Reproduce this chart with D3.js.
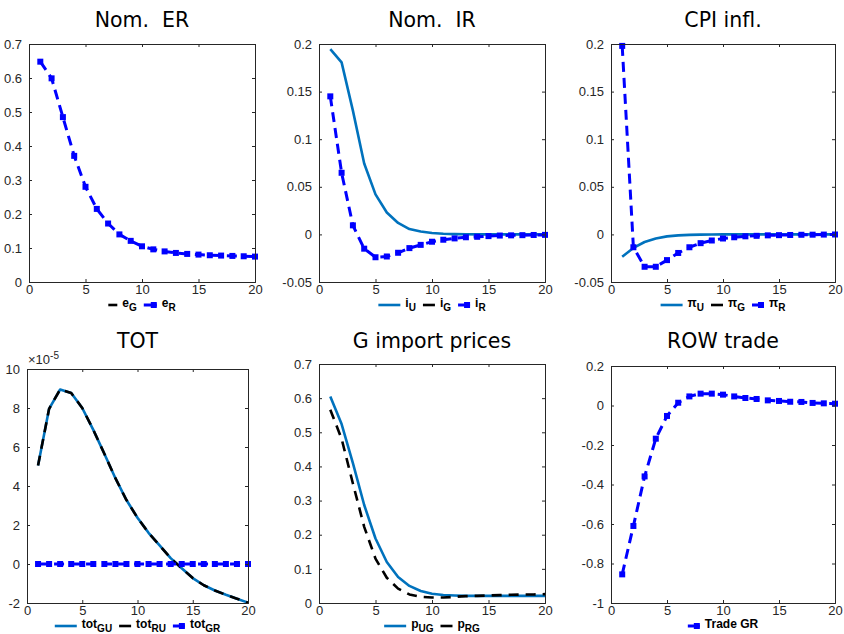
<!DOCTYPE html>
<html><head><meta charset="utf-8">
<script src="https://cdn.jsdelivr.net/npm/d3@7"></script>
<style>body{margin:0;background:#fff}svg{display:block}</style>
</head><body>
<svg id="c" width="844" height="634"></svg>
<script>
// ---------- data ----------
const periods = d3.range(1, 21);
// Nom. ER
const eG = periods.map(() => null);
const eR = [0.648,0.599,0.485,0.371,0.280,0.215,0.172,0.140,0.121,0.105,0.096,0.090,0.0855,0.0826,0.0806,0.0787,0.0777,0.0767,0.0757,0.0747];
// Nom. IR
const iU = [0.1947,0.1807,0.130,0.0745,0.042,0.023,0.012,0.0056,0.003,0.0015,0.0007,0.0003,0.0001,0,0,0,0,0,0,0];
const iG = periods.map(() => null);
const iR = [0.145,0.0647,0.0095,-0.015,-0.024,-0.0232,-0.0193,-0.0144,-0.011,-0.0077,-0.0056,-0.0042,-0.003,-0.0025,-0.0018,-0.0012,-0.001,-0.0008,-0.0006,-0.0005];
// CPI infl.
const piU = [-0.0234,-0.0142,-0.008,-0.0043,-0.0021,-0.001,-0.0005,-0.0002,-0.0001,0,0,0,0,0,0,0,0,0,0,0];
const piG = periods.map(() => null);
const piR = [0.198,-0.0135,-0.034,-0.034,-0.027,-0.0195,-0.0135,-0.0092,-0.0064,-0.0043,-0.003,-0.002,-0.0015,-0.001,-0.0008,-0.0006,-0.0004,-0.0003,-0.0002,-0.0001];
// TOT (x 1e-5)
const totGU = [5.05,7.96,8.95,8.77,8.0,6.88,5.65,4.40,3.28,2.37,1.60,0.95,0.30,-0.22,-0.72,-1.09,-1.36,-1.58,-1.78,-1.98];
const totRU = [5.05,7.96,8.95,8.77,8.0,6.88,5.65,4.40,3.28,2.37,1.60,0.95,0.30,-0.22,-0.72,-1.09,-1.36,-1.58,-1.78,-1.98];
const totGR = periods.map(() => 0);
// G import prices
const pUG = [0.605,0.524,0.410,0.287,0.189,0.120,0.076,0.050,0.035,0.027,0.0235,0.022,0.021,0.021,0.021,0.021,0.021,0.021,0.021,0.021];
const pRG = [0.566,0.481,0.350,0.223,0.130,0.074,0.042,0.025,0.018,0.016,0.016,0.018,0.020,0.021,0.022,0.023,0.024,0.025,0.025,0.026];
// ROW trade
const tradeGR = [-0.855,-0.61,-0.359,-0.168,-0.053,0.014,0.046,0.060,0.060,0.055,0.046,0.038,0.033,0.026,0.023,0.019,0.018,0.013,0.011,0.009];

const xTicks = [0, 5, 10, 15, 20];

// ---------- styles ----------
const ST = {
  solidU: {color: "#0072BD", width: 2.6, dash: null, marker: false},
  blackS: {color: "#000000", width: 2.6, dash: null, marker: false},
  blackD: {color: "#000000", width: 2.6, dash: "10,7", marker: false},
  blueD:  {color: "#0000FF", width: 3, dash: "10,6", marker: true}
};

const panels = [
  {title: "Nom.  ER", titleY: 27, box: [29, 44, 255, 282], y: [0, 0.7], yTicks: d3.range(0, 0.71, 0.1), fmt: d => d3.format(".1f")(d).replace(/^0\.0$/, "0"),
   series: [{data: eG, st: "blackS", lab: "e", sub: "G", len: 9}, {data: eR, st: "blueD", lab: "e", sub: "R", len: 13}]},
  {title: "Nom.  IR", titleY: 27, box: [319, 44, 545, 282], y: [-0.05, 0.2], yTicks: [-0.05, 0, 0.05, 0.1, 0.15, 0.2], fmt: d => String(+d.toFixed(2)),
   series: [{data: iU, st: "solidU", lab: "i", sub: "U", len: 22}, {data: iG, st: "blackS", lab: "i", sub: "G", len: 12}, {data: iR, st: "blueD", lab: "i", sub: "R", len: 12}]},
  {title: "CPI infl.", titleY: 27, box: [611, 44, 835, 282], y: [-0.05, 0.2], yTicks: [-0.05, 0, 0.05, 0.1, 0.15, 0.2], fmt: d => String(+d.toFixed(2)),
   series: [{data: piU, st: "solidU", lab: "\u03C0", sub: "U", len: 22}, {data: piG, st: "blackS", lab: "\u03C0", sub: "G", len: 12}, {data: piR, st: "blueD", lab: "\u03C0", sub: "R", len: 12}]},
  {title: "TOT", titleY: 348, box: [27, 369, 248, 603], y: [-2, 10], yTicks: [-2, 0, 2, 4, 6, 8, 10], fmt: d => String(d), exp: true,
   series: [{data: totGU, st: "solidU", lab: "tot", sub: "GU", len: 22}, {data: totRU, st: "blackD", lab: "tot", sub: "RU", len: 12}, {data: totGR, st: "blueD", lab: "tot", sub: "GR", len: 12}]},
  {title: "G import prices", titleY: 348, box: [319, 364, 545, 603], y: [0, 0.7], yTicks: d3.range(0, 0.71, 0.1), fmt: d => d3.format(".1f")(d).replace(/^0\.0$/, "0"),
   series: [{data: pUG, st: "solidU", lab: "p", sub: "UG", len: 22}, {data: pRG, st: "blackD", lab: "p", sub: "RG", len: 12}]},
  {title: "ROW trade", titleY: 348, box: [611, 366, 835, 603], y: [-1, 0.2], yTicks: [-1, -0.8, -0.6, -0.4, -0.2, 0, 0.2], fmt: d => String(+d.toFixed(1)),
   series: [{data: tradeGR, st: "blueD", lab: "Trade GR", sub: "", len: 12}]}
];

const svg = d3.select("#c");
const AX = "#262626";
const TFONT = "'Liberation Sans', Arial, sans-serif";

panels.forEach(p => {
  const [x0, y0, x1, y1] = p.box;
  const x = d3.scaleLinear().domain([0, 20]).range([x0, x1]);
  const y = d3.scaleLinear().domain(p.y).range([y1, y0]);
  const g = svg.append("g");

  // title
  g.append("text").attr("x", (x0 + x1) / 2).attr("y", p.titleY)
    .attr("text-anchor", "middle").attr("font-family", "'DejaVu Sans', sans-serif")
    .attr("font-size", 20.5).attr("fill", "#000").style("white-space", "pre").text(p.title);

  // axes (box with inward ticks)
  const tl = 3;
  const yL = d3.axisLeft(y).tickValues(p.yTicks).tickSize(-tl).tickPadding(7).tickFormat(p.fmt);
  const yR = d3.axisRight(y).tickValues(p.yTicks).tickSize(-tl).tickFormat("");
  const xB = d3.axisBottom(x).tickValues(xTicks).tickSize(-tl).tickPadding(3).tickFormat(d3.format("d"));
  const xT = d3.axisTop(x).tickValues(xTicks).tickSize(-tl).tickFormat("");
  const style = sel => {
    sel.selectAll("path.domain").attr("stroke", AX).attr("stroke-width", 1);
    sel.selectAll(".tick line").attr("stroke", AX).attr("stroke-width", 1);
    sel.selectAll(".tick text").attr("fill", AX).attr("font-family", TFONT).attr("font-size", 13);
  };

  // clip
  const cid = "clip" + x0 + "_" + y0;
  svg.append("clipPath").attr("id", cid).append("rect")
    .attr("x", x0 - 4).attr("y", y0 - 4).attr("width", x1 - x0 + 8).attr("height", y1 - y0 + 8);
  const plot = g.append("g").attr("clip-path", `url(#${cid})`);

  p.series.forEach(s => {
    const st = ST[s.st];
    const pts = periods.map((t, i) => [t, s.data[i]]);
    const line = d3.line().defined(d => d[1] != null).x(d => x(d[0])).y(d => y(d[1]));
    plot.append("path").datum(pts).attr("d", line).attr("fill", "none")
      .attr("stroke", st.color).attr("stroke-width", st.width)
      .attr("stroke-dasharray", st.dash).attr("stroke-linejoin", "round");
    if (st.marker) {
      plot.selectAll(null).data(pts.filter(d => d[1] != null)).enter().append("rect")
        .attr("x", d => x(d[0]) - 3).attr("y", d => y(d[1]) - 3)
        .attr("width", 6).attr("height", 6).attr("fill", st.color);
    }
  });

  g.append("g").attr("transform", `translate(${x0},0)`).call(yL).call(style);
  g.append("g").attr("transform", `translate(${x1},0)`).call(yR).call(style);
  g.append("g").attr("transform", `translate(0,${y1})`).call(xB).call(style);
  g.append("g").attr("transform", `translate(0,${y0})`).call(xT).call(style);

  if (p.exp) {
    const t = g.append("text").attr("x", x0 + 1).attr("y", y0 - 5).attr("font-family", TFONT)
      .attr("font-size", 13).attr("fill", AX);
    t.append("tspan").text("\u00D710");
    t.append("tspan").attr("dy", -5).attr("font-size", 10).text("-5");
  }

  // legend
  const lg = g.append("g");
  let cx = 0;
  const ly = y1 + 23;
  p.series.forEach(s => {
    const st = ST[s.st];
    const sampleLen = s.len;
    lg.append("line").attr("x1", cx).attr("x2", cx + sampleLen).attr("y1", ly).attr("y2", ly)
      .attr("stroke", st.color).attr("stroke-width", st.width);
    if (st.marker) {
      lg.append("rect").attr("x", cx + sampleLen - 6).attr("y", ly - 3).attr("width", 6).attr("height", 6).attr("fill", st.color);
    }
    cx += sampleLen + 5;
    const t = lg.append("text").attr("x", cx).attr("y", ly + 2).attr("font-family", TFONT)
      .attr("font-size", 12).attr("font-weight", "bold").attr("fill", "#000");
    t.append("tspan").text(s.lab);
    if (s.sub) t.append("tspan").attr("dy", 4).attr("font-size", 10).text(s.sub);
    cx += t.node().getComputedTextLength() + 7;
  });
  const w = cx - 7;
  lg.attr("transform", `translate(${(x0 + x1) / 2 - w / 2},0)`);
});
</script>
</body></html>
